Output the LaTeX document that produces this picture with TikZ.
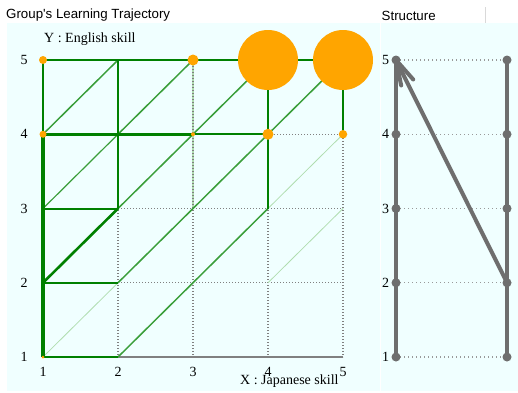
\documentclass[tikz,border=0pt]{standalone}
\usepackage{fontspec}
\setmainfont{Liberation Serif}
\newfontfamily\uisans{Liberation Sans}
\usetikzlibrary{calc}
\definecolor{bgc}{HTML}{F0FFFF}
\definecolor{gr}{HTML}{008000}
\definecolor{grm}{HTML}{3A9E3A}
\definecolor{grl}{HTML}{B0DDB0}
\definecolor{org}{HTML}{FFA500}
\definecolor{stc}{HTML}{6E6E6E}
\definecolor{dotc}{HTML}{808080}
\tikzset{
  gdot/.style={draw=dotc,line width=1.3pt,dash pattern=on 1.3pt off 1.7pt},
  gthick/.style={draw=gr,line width=2.8pt},
  gmid/.style={draw=gr,line width=2pt},
  gdiag/.style={draw=grm,line width=1.5pt},
  glight/.style={draw=grl,line width=0.8pt},
  odot/.style={circle,fill=org,inner sep=0pt},
  sdot/.style={circle,fill=stc,inner sep=0pt,minimum size=9pt},
  sline/.style={draw=stc,line width=4pt},
  sdotted/.style={draw=dotc!80,line width=1.3pt,dash pattern=on 1.3pt off 2.7pt},
  lab/.style={inner sep=0pt,font=\fontsize{14}{16}\selectfont},
  ttl/.style={inner sep=0pt,anchor=west,font=\uisans\fontsize{13.3}{15}\selectfont}
}
\begin{document}
\begin{tikzpicture}[x=1pt,y=-1pt]
\useasboundingbox (0,0) rectangle (518,392);
\fill[bgc] (7,23) rectangle (518,391);
\draw[white,line width=1pt] (380.5,23) -- (380.5,391);
\draw[black!15,line width=1pt] (485,7) -- (485,23);
\node[ttl] (title) at (6,15.5) {Group's Learning Trajectory};
\node[ttl] (stitle) at (381.5,15.5) {Structure};
% grid coordinates
\foreach \i in {1,...,5}{
  \foreach \j in {1,...,5}{
    \coordinate (p\i\j) at ({43+75*(\i-1)},{60+74.25*(5-\j)});
  }
}
% faint green under dotted
\draw[draw=grl,line width=1.5pt] (p35) -- (p34) -- (p33);
% dotted grid
\foreach \i in {2,...,5}{
  \draw[gdot] (p\i5) -- (p\i1);
}
\foreach \j in {2,...,5}{
  \draw[gdot] (p1\j) -- (p5\j);
}
% axis
\draw[draw=dotc,line width=1.5pt] (p21) -- (p51);
% light diagonals
\draw[glight] (p11) -- (p22);
\draw[glight] (p42) -- (p53);
\draw[glight] (p43) -- (p54);
% medium diagonals
\draw[gdiag] (p14) -- (p25);
\draw[gdiag] (p24) -- (p35);
\draw[gdiag] (p34) -- (p45);
\draw[gdiag] (p44) -- (p55);
\draw[gdiag,line width=1.2pt] (p13) -- (p24);
\draw[gdiag] (p23) -- (p34);
\draw[gdiag] (p33) -- (p44);
\draw[gdiag] (p22) -- (p33);
\draw[gdiag] (p32) -- (p43);
\draw[gdiag] (p21) -- (p32);
\draw[draw=gr,line width=2.6pt] (p12) -- (p23);
% horizontals
\draw[gmid] (p15) -- (p25);
\draw[gthick] (p25) -- (p35) -- (p45);
\draw[gmid] (p45) -- (p55);
\draw[gthick] (p14) -- (p24) -- (p34);
\draw[gmid] (p34) -- (p44);
\draw[gmid] (p13) -- (p23);
\draw[gmid,line width=2.4pt] (p12) -- (p22);
\draw[gmid] (p11) -- (p21);
% verticals
\draw[gmid,line width=2.4pt] (p15) -- (p14);
\draw[draw=gr,line width=4pt] (p14) -- (p11);
\draw[gmid] (p25) -- (p24) -- (p23);
\draw[gmid] (p45) -- (p44) -- (p43);
\draw[gmid] (p55) -- (p54);
% orange dots
\node[odot,minimum size=8pt] (o15) at (p15) {};
\node[odot,minimum size=11pt] (o35) at (p35) {};
\node[odot,minimum size=60pt] (o45) at (p45) {};
\node[odot,minimum size=60pt] (o55) at (p55) {};
\node[odot,minimum size=7pt] (o14) at (p14) {};
\node[odot,minimum size=4pt] (o34) at (p34) {};
\node[odot,minimum size=11pt] (o44) at (p44) {};
\node[odot,minimum size=8.5pt] (o54) at (p54) {};
\node[odot,minimum size=3pt] (o11) at (p11) {};
% axis labels
\foreach \j in {1,...,5}{
  \node[lab] (yl\j) at ($(p1\j)+(-19,0)$) {\j};
}
\foreach \i in {1,...,5}{
  \node[lab] (xl\i) at ($(p\i1)+(0,14.5)$) {\i};
}
\node[lab,anchor=west] (ylab) at (44,39) {Y : English skill};
\node[lab,anchor=west] (xlab) at (240,381.5) {X : Japanese skill};
% structure panel
\foreach \j in {1,...,5}{
  \coordinate (sl\j) at (396,{60+74.25*(5-\j)});
  \coordinate (sr\j) at (507,{60+74.25*(5-\j)});
  \draw[sdotted] (sl\j) -- (sr\j);
}
\draw[sline] (sl5) -- (sl1);
\draw[sline] (sr5) -- (sr1);
\foreach \j in {1,...,5}{
  \node[sdot] (L\j) at (sl\j) {};
  \node[sdot] (R\j) at (sr\j) {};
  \node[lab] (sn\j) at ($(sl\j)+(-10.5,0)$) {\j};
}
\draw[sline] (R2.center) -- (L5.center);
\draw[sline,line cap=round] (L5.center) -- ($(L5.center)!26pt!15:(R2.center)$);
\draw[sline,line cap=round] (L5.center) -- ($(L5.center)!26pt!-15:(R2.center)$);
\end{tikzpicture}
\end{document}
